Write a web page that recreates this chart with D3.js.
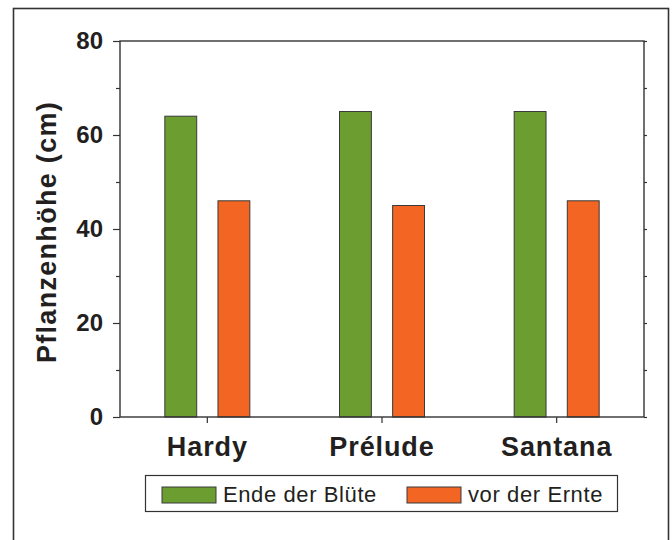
<!DOCTYPE html>
<html>
<head>
<meta charset="utf-8">
<script src="https://cdn.jsdelivr.net/npm/d3@7"></script>
<style>
  body { margin: 0; background: #fff; }
  text { font-family: "Liberation Sans", Arial, sans-serif; fill: #231f20; }
</style>
</head>
<body>
<div id="chart"></div>
<script>
const categories = ['Hardy', 'Prélude', 'Santana'];
const seriesNames = ['Ende der Blüte', 'vor der Ernte'];
const endeBluete = [64, 65, 65];
const vorErnte = [46, 45, 46];
const yTicks = [0, 20, 40, 60, 80];
const yMinorTicks = [10, 30, 50, 70];

const colors = ['#6b9d30', '#f26522'];

const W = 672, H = 540;
const plot = { left: 120, right: 644, top: 41, bottom: 417 };

const svg = d3.select("#chart")
    .append("svg")
    .attr("width", W)
    .attr("height", H);

// outer frame
svg.append("rect")
    .attr("x", 13.5).attr("y", 8.5)
    .attr("width", 655).attr("height", 560)
    .attr("fill", "none")
    .attr("stroke", "#333")
    .attr("stroke-width", 1.6);

const x = d3.scaleBand()
    .domain(categories)
    .range([plot.left, plot.right]);

const x1 = d3.scaleBand()
    .domain(seriesNames)
    .range([-42.5, 42.5])
    .paddingInner(0.4);

const y = d3.scaleLinear()
    .domain([0, 80])
    .range([plot.bottom, plot.top]);

const rows = categories.map((c, i) => ({
    cat: c,
    vals: [endeBluete[i], vorErnte[i]]
}));

// bars
const groups = svg.selectAll(".grp")
    .data(rows)
    .enter()
    .append("g")
    .attr("transform", d => `translate(${x(d.cat) + x.bandwidth() / 2},0)`);

groups.selectAll("rect")
    .data(d => d.vals.map((v, j) => ({ v, s: seriesNames[j], j })))
    .enter()
    .append("rect")
    .attr("x", d => x1(d.s))
    .attr("width", x1.bandwidth())
    .attr("y", d => y(d.v))
    .attr("height", d => y(0) - y(d.v))
    .attr("fill", d => colors[d.j])
    .attr("stroke", "#3a3a3a")
    .attr("stroke-width", 1);

// plot box
svg.append("rect")
    .attr("x", plot.left).attr("y", plot.top)
    .attr("width", plot.right - plot.left)
    .attr("height", plot.bottom - plot.top)
    .attr("fill", "none")
    .attr("stroke", "#333")
    .attr("stroke-width", 1.4);

// left axis
const yAxis = svg.append("g")
    .attr("transform", `translate(${plot.left},0)`)
    .call(d3.axisLeft(y).tickValues(yTicks).tickSize(7).tickPadding(10).tickFormat(d3.format("d")));
yAxis.select(".domain").remove();
yAxis.selectAll("line").attr("stroke", "#333").attr("stroke-width", 1.2);
yAxis.selectAll("text")
    .attr("font-size", 24)
    .attr("font-weight", "bold")
    .style("font-family", "'Liberation Sans', Arial, sans-serif")
    .attr("fill", "#231f20");

const yMinor = svg.append("g")
    .attr("transform", `translate(${plot.left},0)`)
    .call(d3.axisLeft(y).tickValues(yMinorTicks).tickSize(4).tickFormat(""));
yMinor.select(".domain").remove();
yMinor.selectAll("line").attr("stroke", "#333").attr("stroke-width", 1.2);

// right axis small ticks
const yRight = svg.append("g")
    .attr("transform", `translate(${plot.right},0)`)
    .call(d3.axisRight(y).tickValues(yTicks.concat(yMinorTicks)).tickSize(3).tickFormat(""));
yRight.select(".domain").remove();
yRight.selectAll("line").attr("stroke", "#333").attr("stroke-width", 1.2);

// bottom axis
const xAxis = svg.append("g")
    .attr("transform", `translate(0,${plot.bottom})`)
    .call(d3.axisBottom(x).tickSize(6).tickPadding(14));
xAxis.select(".domain").remove();
xAxis.selectAll("line").attr("stroke", "#333").attr("stroke-width", 1.2);
xAxis.selectAll("text")
    .attr("font-size", 27)
    .attr("font-weight", "bold")
    .attr("letter-spacing", 0.9)
    .style("font-family", "'Liberation Sans', Arial, sans-serif")
    .attr("fill", "#231f20");

// y axis title
svg.append("text")
    .attr("transform", `translate(56,${(plot.top + plot.bottom) / 2 + 3}) rotate(-90)`)
    .attr("text-anchor", "middle")
    .attr("font-size", 27)
    .attr("font-weight", "bold")
    .attr("letter-spacing", 1.3)
    .text("Pflanzenhöhe (cm)");

// legend
const legend = svg.append("g");
legend.append("rect")
    .attr("x", 145.5).attr("y", 475.5)
    .attr("width", 472).attr("height", 36)
    .attr("fill", "#fff")
    .attr("stroke", "#333")
    .attr("stroke-width", 1.2);

const legX = [162, 407];
seriesNames.forEach((name, i) => {
    legend.append("rect")
        .attr("x", legX[i]).attr("y", 487)
        .attr("width", 54).attr("height", 16)
        .attr("fill", colors[i])
        .attr("stroke", "#3a3a3a")
        .attr("stroke-width", 1);
    legend.append("text")
        .attr("x", legX[i] + 61)
        .attr("y", 502)
        .attr("font-size", 22)
        .attr("letter-spacing", 0.6)
        .text(name);
});
</script>
</body>
</html>
